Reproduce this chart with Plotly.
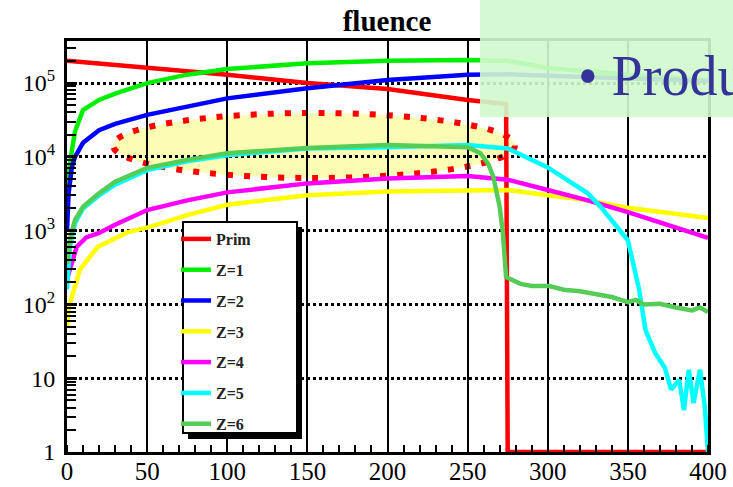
import plotly.graph_objects as go

# ---------------- data ----------------
prim_x = [0, 50, 100, 150, 200, 250, 274, 275, 400]
prim_y = [2.0e5, 1.6e5, 1.3e5, 1.0e5, 8.3e4, 5.9e4, 5.2e4, 1, 1]

z12_x = [0, 1, 3, 5, 10, 20, 30, 50, 75, 100, 150, 200, 250, 275, 300, 350, 400]
z1_y = [4.0e3, 6.3e3, 1.2e4, 2.2e4, 4.3e4, 5.9e4, 7.2e4, 1.0e5, 1.3e5, 1.55e5,
        1.85e5, 2.0e5, 2.05e5, 2.0e5, 1.6e5, 1.3e5, 1.1e5]
z2_y = [1.0e3, 3.2e3, 7.2e3, 1.0e4, 1.55e4, 2.3e4, 2.8e4, 3.7e4, 4.8e4, 6.2e4,
        8.5e4, 1.1e5, 1.3e5, 1.32e5, 1.26e5, 1.17e5, 1.07e5]

z3_x = [0, 1, 3, 8, 19, 38, 50, 75, 100, 150, 200, 250, 275, 300, 325, 350, 400]
z3_y = [49, 89, 126, 295, 600, 955, 1100, 1620, 2240, 3020, 3390, 3550, 3550,
        3020, 2570, 2040, 1480]

z4_x = [0, 2, 6, 12, 20, 30, 50, 75, 100, 150, 200, 250, 275, 300, 325, 350, 400]
z4_y = [220, 320, 600, 810, 930, 1200, 1900, 2570, 3300, 4370, 5100, 5500, 4900,
        3550, 2570, 1780, 800]

z5_x = [0, 2, 5, 10, 20, 30, 50, 75, 100, 150, 200, 250, 275, 300, 325, 333, 350,
        357, 361, 367, 373, 377, 382, 385, 388, 391, 395, 398, 400]
z5_y = [160, 630, 1260, 2000, 3000, 4200, 6600, 8700, 1.05e4, 1.3e4, 1.35e4, 1.45e4,
        1.3e4, 7200, 3200, 2100, 740, 160, 45, 22, 14, 7, 9.5, 3.7, 13, 4.6, 13, 4.1, 1]

z6_x = [0, 2, 5, 10, 20, 30, 50, 75, 100, 150, 200, 250, 258, 263, 266, 268, 270,
        272, 274, 283, 290, 301, 310, 320, 333, 340, 350, 355, 360, 370, 380, 390,
        395, 400]
z6_y = [355, 800, 1400, 2100, 3200, 4600, 7100, 9100, 1.12e4, 1.32e4, 1.45e4, 1.35e4,
        1.12e4, 7900, 5400, 3550, 2100, 930, 235, 190, 178, 178, 158, 151, 132, 126,
        107, 115, 100, 102, 91, 83, 91, 79]

series = [
    ("Prim", prim_x, prim_y, "#ff0000"),
    ("Z=1", z12_x, z1_y, "#00ee00"),
    ("Z=2", z12_x, z2_y, "#0000ff"),
    ("Z=3", z3_x, z3_y, "#ffff00"),
    ("Z=4", z4_x, z4_y, "#ff00ff"),
    ("Z=5", z5_x, z5_y, "#00ffff"),
    ("Z=6", z6_x, z6_y, "#55cc55"),
]

x_ticks = [0, 50, 100, 150, 200, 250, 300, 350, 400]
y_ticks = [1, 10, 100, 1e3, 1e4, 1e5]
y_ticktext = ["1", "10", "10<sup>2</sup>", "10<sup>3</sup>", "10<sup>4</sup>", "10<sup>5</sup>"]
y_minor = [m * 10 ** d for d in range(0, 6) for m in range(2, 10)]

SERIF = "Liberation Serif"

fig = go.Figure()
for i, (name, xs, ys, col) in enumerate(series):
    fig.add_trace(go.Scatter(x=xs, y=ys, mode="lines", name=name,
                             legendgroup=f"g{i}",
                             line=dict(color=col, width=4.5)))

# plot-area geometry helpers (paper coords)
L, R, T, B = 67, 708, 41, 452
W, H = R - L, B - T
px = lambda v: (v - L) / W
py = lambda v: (B - v) / H

shapes = [
    # highlighted ellipse
    dict(type="circle", xref="paper", yref="paper",
         x0=px(113), x1=px(515), y0=py(178), y1=py(113),
         fillcolor="rgba(250,250,140,0.65)", layer="between",
         line=dict(color="#ff0000", width=6, dash="6px,11px")),
    # legend shadow + box
    dict(type="rect", xref="paper", yref="paper",
         x0=px(188), x1=px(302), y0=py(439), y1=py(227),
         fillcolor="black", line=dict(width=0), layer="above"),
    dict(type="rect", xref="paper", yref="paper",
         x0=px(183), x1=px(297), y0=py(433), y1=py(222),
         fillcolor="white", line=dict(color="black", width=2), layer="above"),
    # green slide box
    dict(type="rect", xref="paper", yref="paper",
         x0=px(480), x1=px(740), y0=py(117), y1=py(-5),
         fillcolor="rgba(208,250,204,0.9)", line=dict(width=0), layer="above"),
]

fig.update_layout(
    width=733, height=487,
    margin=dict(l=L, r=733 - R, t=T, b=487 - B, autoexpand=False),
    paper_bgcolor="white", plot_bgcolor="white",
    font=dict(family=SERIF, color="black"),
    title=dict(text="<b>fluence</b>", x=px(387), xref="paper", xanchor="center",
               y=1 - 21 / 487, yanchor="middle",
               font=dict(family=SERIF, size=29, color="black")),
    showlegend=True,
    legend=dict(x=px(176), y=py(222), xanchor="left", yanchor="top",
                bgcolor="rgba(0,0,0,0)", borderwidth=0, tracegroupgap=7,
                font=dict(family=SERIF, size=16, color="#222", weight="bold")),
    shapes=shapes,
    annotations=[dict(text="• Produ", xref="paper", yref="paper",
                      x=px(576), y=py(76), xanchor="left", yanchor="middle",
                      showarrow=False,
                      font=dict(family=SERIF, size=56, color="#333399"))],
)

fig.update_xaxes(range=[0, 400], tickvals=x_ticks, ticks="", automargin=False,
                 showgrid=True, gridcolor="black", gridwidth=2,
                 showline=True, linecolor="black", linewidth=3, mirror=True,
                 zeroline=False, ticklabelstandoff=-5,
                 tickfont=dict(family=SERIF, size=25, color="black"),
                 minor=dict(dtick=10, ticks="inside", ticklen=7, tickwidth=2,
                            tickcolor="black", showgrid=False))

fig.update_yaxes(type="log", range=[0, 5.57], tickvals=y_ticks, ticktext=y_ticktext,
                 automargin=False,
                 ticks="inside", ticklen=10, tickwidth=3, tickcolor="black",
                 showgrid=True, gridcolor="black", gridwidth=2.5, griddash="dot",
                 showline=True, linecolor="black", linewidth=3, mirror=True,
                 zeroline=False, ticklabelstandoff=4,
                 tickfont=dict(family=SERIF, size=24, color="black"),
                 minor=dict(tickvals=y_minor, ticks="inside", ticklen=9, tickwidth=2,
                            tickcolor="black", showgrid=False))

fig.write_html("out.html", config={"displayModeBar": False},
               post_script="document.body.style.margin='0';"
                           "document.body.style.overflow='hidden';")
